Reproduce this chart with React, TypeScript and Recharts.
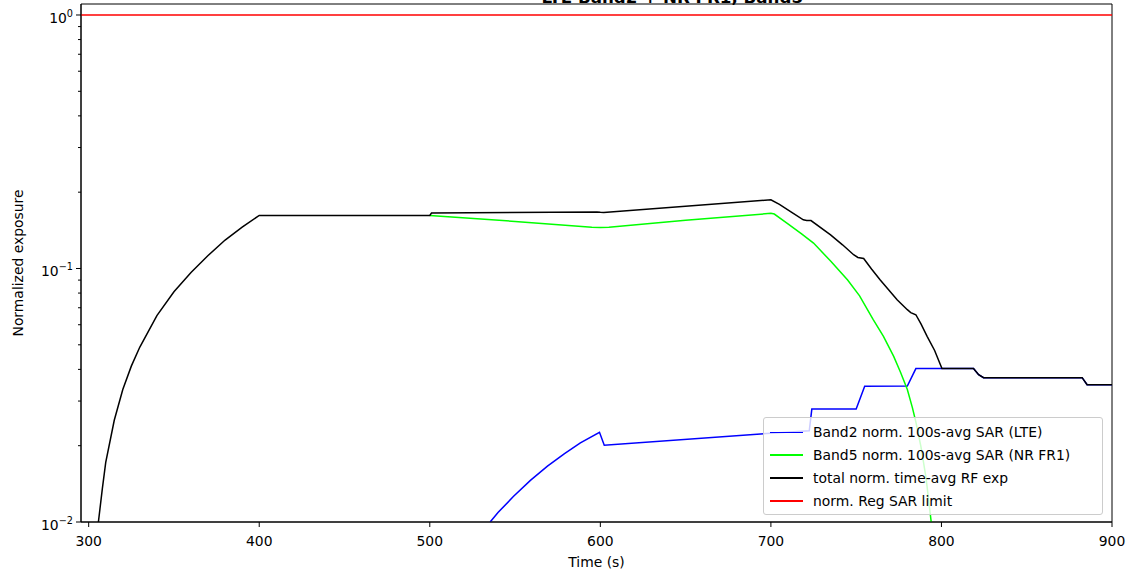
import React from "react";
import {
  LineChart, Line, XAxis, YAxis, Legend, ReferenceArea,
} from "recharts";

// ─── data ─────────────────────────────────────────────────────────────────────

const band2Lte: [number, number][] = [
  [535.4, 0.01], [540, 0.0109], [549, 0.0126], [559, 0.0146], [569, 0.0166],
  [579, 0.0186], [588.3, 0.0205], [599.5, 0.0226], [602.3, 0.0201], [700, 0.0224],
  [722.5, 0.0229], [724, 0.0279], [750, 0.0279], [755, 0.0343], [780, 0.0344],
  [785, 0.0403], [800.3, 0.0403], [818.8, 0.0403], [821.8, 0.0381], [824.7, 0.0371],
  [882.5, 0.0371], [885.4, 0.0348], [900, 0.0348],
];

const band5Nr: [number, number][] = [
  [500, 0.162], [550, 0.1533], [595, 0.1455], [600, 0.145], [605, 0.1456], [650, 0.155],
  [700, 0.165], [702, 0.164], [710, 0.15], [718, 0.137], [725, 0.126], [735, 0.107],
  [745, 0.09], [752, 0.078], [760, 0.0628], [766, 0.054], [772, 0.045], [776, 0.039],
  [780, 0.0333], [783, 0.0282], [785, 0.0248], [788, 0.0198], [791, 0.0149], [794, 0.01],
];

const totalExp: [number, number][] = [
  [305.7, 0.01], [308, 0.0135], [310, 0.0172], [315, 0.0252], [320, 0.0333],
  [325, 0.0412], [330, 0.049], [340, 0.0652], [350, 0.081], [360, 0.0965],
  [370, 0.1125], [380, 0.1295], [390, 0.1455], [400, 0.162],
  [500, 0.162], [501, 0.1654], [598, 0.1672], [600, 0.1665], [602, 0.1662],
  [700, 0.1866], [705, 0.179], [712, 0.167], [719, 0.1556], [721, 0.1548],
  [723.5, 0.1545], [735, 0.1358], [742, 0.124], [748.5, 0.1133], [751, 0.1105],
  [754.4, 0.1095], [759, 0.0995], [764, 0.0903], [769, 0.0825], [774, 0.0753],
  [780, 0.0688], [782, 0.067], [785, 0.0657], [788, 0.0605], [791.6, 0.054],
  [796, 0.0475], [800.3, 0.0403], [818.8, 0.0403], [821.8, 0.0381], [824.7, 0.0371],
  [882.5, 0.0371], [885.4, 0.0348], [900, 0.0348],
];

const sarLimit: [number, number][] = [[290, 1], [900, 1]];

const xTicks = [300, 400, 500, 600, 700, 800, 900];
const yTicks = [
  0.01, 0.02, 0.03, 0.04, 0.05, 0.06, 0.07, 0.08, 0.09,
  0.1, 0.2, 0.3, 0.4, 0.5, 0.6, 0.7, 0.8, 0.9, 1,
];
const xDomain: [number, number] = [295.5, 900];
const yDomain: [number, number] = [0.01, 1.105];

const legendItems = [
  { label: "Band2 norm. 100s-avg SAR (LTE)", color: "#0000ff" },
  { label: "Band5 norm. 100s-avg SAR (NR FR1)", color: "#00ff00" },
  { label: "total norm. time-avg RF exp", color: "#000000" },
  { label: "norm. Reg SAR limit", color: "#ff0000" },
];

const FONT = "'DejaVu Sans', sans-serif";
const FS = 13.9;

const toRows = (pts: [number, number][]) => pts.map(([t, v]) => ({ t, v }));

// ─── axis pieces ─────────────────────────────────────────────────────────────

function LogTick(props: any) {
  const { x, y, payload } = props;
  const v = payload.value as number;
  const exp = Math.round(Math.log10(v));
  const major = Math.abs(v - Math.pow(10, exp)) < 1e-9;
  const len = major ? 5 : 3;
  return (
    <g>
      <line x1={x - len} x2={x} y1={y} y2={y} stroke="#000" strokeWidth={1} />
      {major && (
        <text x={x - 8} y={y + 8} textAnchor="end" fontFamily={FONT} fontSize={FS} fill="#000">
          10
          <tspan dy={-6} fontSize={9.7}>{exp === 0 ? "0" : `\u2212${Math.abs(exp)}`}</tspan>
        </text>
      )}
    </g>
  );
}

function ChartLegend() {
  return (
    <div
      style={{
        boxSizing: "border-box",
        width: 340,
        height: 98,
        paddingTop: 3,
        background: "rgba(255,255,255,0.8)",
        border: "1px solid #cccccc",
        borderRadius: 3,
        fontFamily: FONT,
        fontSize: FS,
        color: "#000",
      }}
    >
      {legendItems.map((it) => (
        <div key={it.label} style={{ display: "flex", alignItems: "center", height: 22.8 }}>
          <span style={{ display: "inline-block", width: 33, height: 1.5, background: it.color, marginLeft: 6, marginRight: 10 }} />
          <span style={{ whiteSpace: "nowrap" }}>{it.label}</span>
        </div>
      ))}
    </div>
  );
}

export default function App() {
  return (
    <div style={{ position: "absolute", left: 0, top: 0, width: 1127, height: 574, background: "#fff" }}>
      <LineChart width={1127} height={574} margin={{ top: 4, right: 15, bottom: 0, left: 0 }}>
        <XAxis
          type="number"
          dataKey="t"
          domain={xDomain}
          ticks={xTicks}
          allowDataOverflow
          height={52}
          tickSize={5}
          tickMargin={9}
          stroke="#000"
          tick={{ fontSize: FS, fill: "#000", fontFamily: FONT }}
          label={{
            content: ({ viewBox }: any) => (
              <text
                x={viewBox.x + viewBox.width / 2}
                y={viewBox.y + 40}
                textAnchor="middle"
                dominantBaseline="central"
                fontFamily={FONT}
                fontSize={FS}
                fill="#000"
              >
                Time (s)
              </text>
            ),
          }}
        />
        <YAxis
          type="number"
          scale="log"
          domain={yDomain}
          ticks={yTicks}
          allowDataOverflow
          width={81}
          tickSize={0}
          tickMargin={0}
          tickLine={false}
          stroke="#000"
          tick={<LogTick />}
          interval={0}
          label={{
            content: ({ viewBox }: any) => {
              const cx = viewBox.x + 18;
              const cy = viewBox.y + viewBox.height / 2;
              return (
                <text
                  x={cx}
                  y={cy}
                  transform={`rotate(-90, ${cx}, ${cy})`}
                  textAnchor="middle"
                  dominantBaseline="central"
                  fontFamily={FONT}
                  fontSize={FS}
                  fill="#000"
                >
                  Normalized exposure
                </text>
              );
            },
          }}
        />
        <ReferenceArea
          x1={xDomain[0]}
          x2={xDomain[1]}
          y1={yDomain[0]}
          y2={yDomain[1]}
          fill="none"
          stroke="#000"
          strokeWidth={1}
          ifOverflow="visible"
        />
        <Line data={toRows(band2Lte)} dataKey="v" type="linear" stroke="#0000ff" strokeWidth={1.5} dot={false} isAnimationActive={false} />
        <Line data={toRows(band5Nr)} dataKey="v" type="linear" stroke="#00ff00" strokeWidth={1.5} dot={false} isAnimationActive={false} />
        <Line data={toRows(totalExp)} dataKey="v" type="linear" stroke="#000000" strokeWidth={1.5} dot={false} isAnimationActive={false} />
        <Line data={toRows(sarLimit)} dataKey="v" type="linear" stroke="#ff0000" strokeWidth={1.5} dot={false} isAnimationActive={false} />
        <Legend
          layout="horizontal"
          verticalAlign="middle"
          align="center"
          content={() => <ChartLegend />}
          wrapperStyle={{ left: 763, top: 417, width: 340, height: 98 }}
        />
      </LineChart>
      <svg width={1127} height={20} style={{ position: "absolute", left: 0, top: 0, pointerEvents: "none" }}>
        <text x={803} y={3} textAnchor="end" fontFamily={FONT} fontWeight="bold" fontSize={16.7} fill="#000">
          LTE Band2 + NR FR1, Band5
        </text>
      </svg>
    </div>
  );
}
